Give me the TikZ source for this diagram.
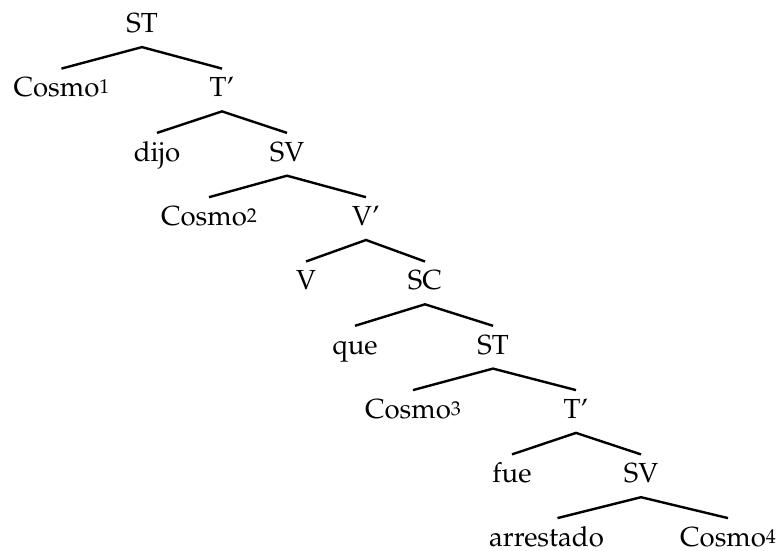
\documentclass[tikz,border=0pt]{standalone}
\usepackage[T1]{fontenc}
\usepackage{mathpazo}

\newcommand{\indice}[1]{\raisebox{1.6pt}{\fontsize{10}{11}\selectfont #1}}

\tikzset{
  nodo/.style={anchor=base, inner xsep=0pt, inner ysep=4pt,
    text height=10pt, text depth=3pt, font=\fontsize{13.8}{16}\selectfont},
  rama/.style={line width=1.2pt}
}

\begin{document}
\begin{tikzpicture}[x=0.5pt,y=-0.5pt]
  \useasboundingbox (0,0) rectangle (778,551);

  % nodos del arbol
  \node[nodo] (st1) at (142,32.7) {ST};
  \node[nodo] (cosmo1) at (61.5,97) {Cosmo\indice{1}};
  \node[nodo] (tbar1) at (222,97) {T'};
  \node[nodo] (dijo) at (157,161.3) {dijo};
  \node[nodo] (sv1) at (287,161.3) {SV};
  \node[nodo] (cosmo2) at (209,225.6) {Cosmo\indice{2}};
  \node[nodo] (vbar) at (366,225.6) {V'};
  \node[nodo] (v) at (306,289.9) {V};
  \node[nodo] (sc) at (425,289.9) {SC};
  \node[nodo] (que) at (355,354.2) {que};
  \node[nodo] (st2) at (493,354.2) {ST};
  \node[nodo] (cosmo3) at (413,418.5) {Cosmo\indice{3}};
  \node[nodo] (tbar2) at (576,418.5) {T'};
  \node[nodo] (fue) at (512,482.8) {fue};
  \node[nodo] (sv2) at (641,482.8) {SV};
  \node[nodo] (arrestado) at (546.5,546.5) {arrestado};
  \node[nodo] (cosmo4) at (728,546.5) {Cosmo\indice{4}};

  % ramas
  \draw[rama] (cosmo1.north) -- (st1.south) -- (tbar1.north);
  \draw[rama] (dijo.north) -- (tbar1.south) -- (sv1.north);
  \draw[rama] (cosmo2.north) -- (sv1.south) -- (vbar.north);
  \draw[rama] (v.north) -- (vbar.south) -- (sc.north);
  \draw[rama] (que.north) -- (sc.south) -- (st2.north);
  \draw[rama] (cosmo3.north) -- (st2.south) -- (tbar2.north);
  \draw[rama] (fue.north) -- (tbar2.south) -- (sv2.north);
  \draw[rama] ([xshift=5.5pt]arrestado.north) -- (sv2.south) -- (cosmo4.north);
\end{tikzpicture}
\end{document}
